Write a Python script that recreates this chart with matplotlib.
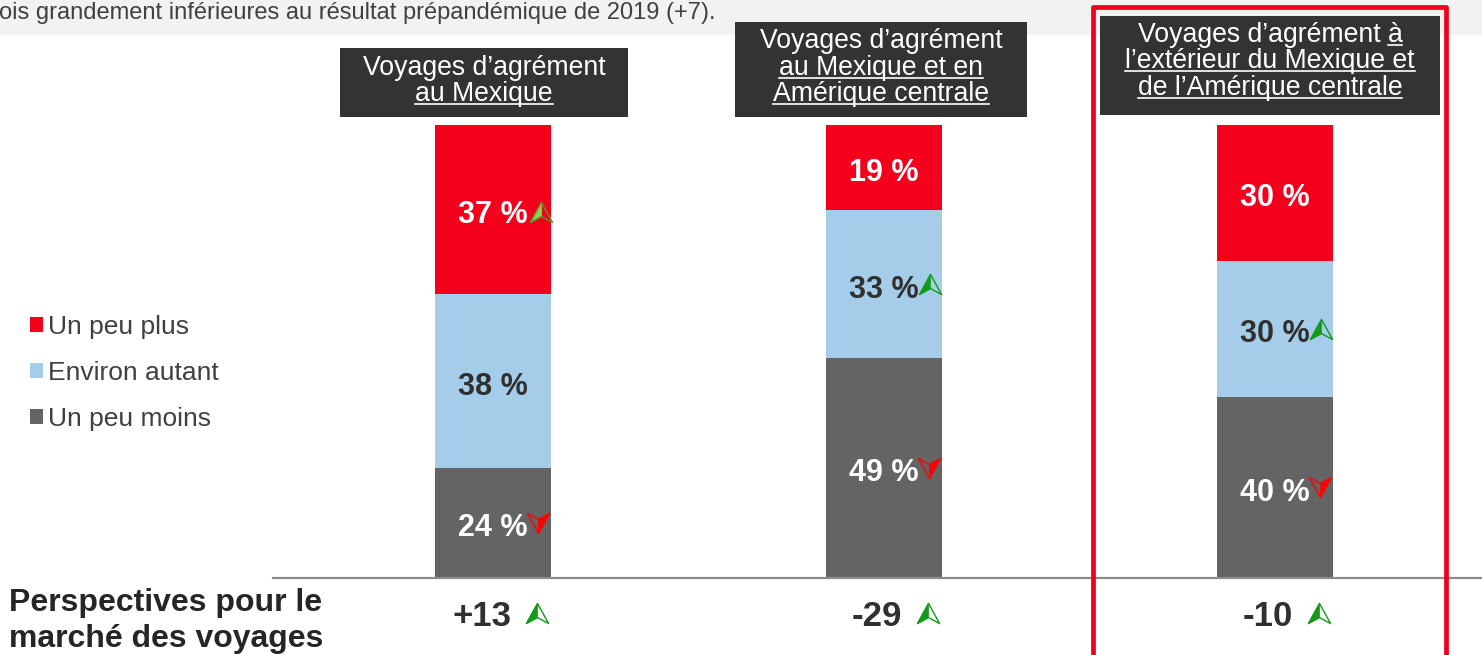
import numpy as np
import matplotlib.pyplot as plt
from matplotlib.patches import Rectangle, Patch
from matplotlib.lines import Line2D
from matplotlib.path import Path
from matplotlib import font_manager

W, H = 1482, 655

# ---- données ----
series = ["Un peu plus", "Environ autant", "Un peu moins"]
un_peu_plus = [37, 19, 30]
environ_autant = [38, 33, 30]
un_peu_moins = [24, 49, 40]
perspectives = [13, -29, -10]

tendance_plus = ["up", None, None]
tendance_autant = [None, "up", "up"]
tendance_moins = ["down", "down", "down"]
tendance_persp = ["up", "up", "up"]

# (ligne, partie soulignée à la fin)
titres = [
    [("Voyages d’agrément", ""), ("au Mexique", "au Mexique")],
    [("Voyages d’agrément", ""), ("au Mexique et en", "au Mexique et en"),
     ("Amérique centrale", "Amérique centrale")],
    [("Voyages d’agrément à", "à"),
     ("l’extérieur du Mexique et", "l’extérieur du Mexique et"),
     ("de l’Amérique centrale", "de l’Amérique centrale")],
]
haut_texte = "ois grandement inférieures au résultat prépandémique de 2019 (+7)."
label_persp = "Perspectives pour le\nmarché des voyages"

couleurs = ["#f5001c", "#a5cdea", "#646464"]
txt_couleurs = ["white", "#303030", "white"]

installed = {f.name for f in font_manager.fontManager.ttflist}
FONT = "Liberation Sans" if "Liberation Sans" in installed else "DejaVu Sans"
NARROW = "Liberation Sans Narrow" if "Liberation Sans Narrow" in installed else FONT
plt.rcParams["font.family"] = [FONT, "DejaVu Sans"]


def fx(x):
    return x / W


def fy(y):
    return 1 - y / H


fig = plt.figure(figsize=(W / 100, H / 100), dpi=100)
fig.patch.set_facecolor("white")

# bande grise du haut
fig.add_artist(Rectangle((0, fy(35)), 1, 35 / H, transform=fig.transFigure,
                         facecolor="#f2f2f2", edgecolor="none", zorder=-2))
fig.text(fx(-1), fy(13), haut_texte, ha="left", va="center", fontsize=17,
         color="#404040", family=NARROW)

ax = fig.add_axes([fx(273), fy(578), fx(1482) - fx(273), fy(125) - fy(578)])
ax.patch.set_visible(False)
step = 391.0
ax.set_xlim(-(493 - 273) / step, 2 + (1482 - 1275) / step)
ax.set_ylim(0, 100)
for s in ["top", "right", "left"]:
    ax.spines[s].set_visible(False)
ax.spines["bottom"].set_color("#8c8c8c")
ax.spines["bottom"].set_linewidth(1.6)
ax.set_xticks([])
ax.set_yticks([])

data = np.array([un_peu_moins, environ_autant, un_peu_plus], dtype=float)
parts = data / data.sum(axis=0) * 100
x = np.arange(len(un_peu_plus))
bw = 116 / step

ordre = [2, 1, 0]  # du bas vers le haut : moins, autant, plus
tendances = [tendance_moins, tendance_autant, tendance_plus]

full = [(0, 1), (-1.1, -1), (0, -0.4), (1.1, -1), (0, 1)]
half = [(0, 1), (-1.1, -1), (0, -0.4), (0, 1)]
codes5 = [Path.MOVETO] + [Path.LINETO] * 3 + [Path.CLOSEPOLY]
codes4 = [Path.MOVETO] + [Path.LINETO] * 2 + [Path.CLOSEPOLY]
arrow_up = (Path(full, codes5), Path(half, codes4))
arrow_down = (Path([(-a, -b) for a, b in full], codes5),
              Path([(-a, -b) for a, b in half], codes4))


def fleche(xp, yp, sens, fill, edge, ms=16):
    p_full, p_half = arrow_up if sens == "up" else arrow_down
    ax.plot([xp], [yp], marker=p_half, ms=ms, mfc=fill, mec=fill, mew=0.5,
            ls="none", clip_on=False, zorder=5)
    ax.plot([xp], [yp], marker=p_full, ms=ms, mfc="none", mec=edge, mew=1.0,
            ls="none", clip_on=False, zorder=6)


bottom = np.zeros(len(x))
for k in range(3):
    j = ordre[k]
    vals = parts[k]
    ax.bar(x, vals, bw, bottom=bottom, color=couleurs[j], zorder=2)
    for i in range(len(x)):
        yc = bottom[i] + vals[i] / 2
        ax.text(x[i], yc - 0.4, f"{int(data[k][i])} %", ha="center",
                va="center_baseline", fontsize=22, fontweight="bold",
                color=txt_couleurs[j], zorder=4)
        t = tendances[k][i]
        if t == "up":
            if j == 0:
                fleche(x[i] + 48 / step, yc - 0.5, "up", "#92d050", "#4f9a2a")
            else:
                fleche(x[i] + 46 / step, yc, "up", "#14991a", "#14991a")
        elif t == "down":
            fleche(x[i] + 45 / step, yc, "down", "#ff0000", "#ff0000")
    bottom += vals

# perspectives
yb = -(613 - 578) / 453 * 100
for i, v in enumerate(perspectives):
    ax.text(x[i] + 18 / step, yb, f"{v:+d}", ha="right", va="center_baseline",
            fontsize=25, fontweight="bold", color="#303030", clip_on=False)
    if tendance_persp[i] == "up":
        fleche(x[i] + 44 / step, yb, "up", "#14991a", "#14991a")

fig.text(fx(166), fy(621), label_persp, ha="center", va="center", fontsize=23,
         fontweight="bold", color="#262626", linespacing=1.22)

# légende
handles = [Patch(facecolor=couleurs[i], label=series[i]) for i in range(3)]
fig.legend(handles=handles, loc="center left", bbox_to_anchor=(fx(30), fy(373)),
           frameon=False, fontsize=19, handlelength=0.5, handleheight=0.5,
           handletextpad=0.18, labelspacing=0.83, borderpad=0, borderaxespad=0,
           labelcolor="#404040")

# titres des colonnes
boites = [(340, 48, 628, 117), (735, 22, 1027, 117), (1100, 16, 1440, 115)]
lignes_y = [[75, 101], [48, 75, 101], [42, 68, 95]]
textes = []
for i, (x0, y0, x1, y1) in enumerate(boites):
    fig.add_artist(Rectangle((fx(x0), fy(y1)), fx(x1) - fx(x0), fy(y0) - fy(y1),
                             transform=fig.transFigure, facecolor="#333333",
                             edgecolor="none", zorder=1))
    xc = (x0 + x1) / 2
    for (ligne, soul), yl in zip(titres[i], lignes_y[i]):
        t = fig.text(fx(xc), fy(yl), ligne, ha="center", va="baseline",
                     fontsize=19.2, color="white", zorder=2)
        textes.append((t, soul, yl))

fig.canvas.draw()
r = fig.canvas.get_renderer()
for t, soul, yl in textes:
    if not soul:
        continue
    bb = t.get_window_extent(r)
    tmp = fig.text(0, 0, soul, fontsize=19.2)
    w = tmp.get_window_extent(r).width
    tmp.remove()
    yy = fy(yl + 3)
    fig.add_artist(Line2D([(bb.x1 - w) / W, bb.x1 / W], [yy, yy],
                          transform=fig.transFigure, color="white", lw=1.2,
                          zorder=3))

# cadre rouge
fig.add_artist(Rectangle((fx(1093), fy(660)), fx(1446) - fx(1093), fy(7) - fy(660),
                         transform=fig.transFigure, fill=False, edgecolor="#f0001c",
                         lw=3.4, joinstyle="round", zorder=4))

fig.savefig("out.png", dpi=100)
